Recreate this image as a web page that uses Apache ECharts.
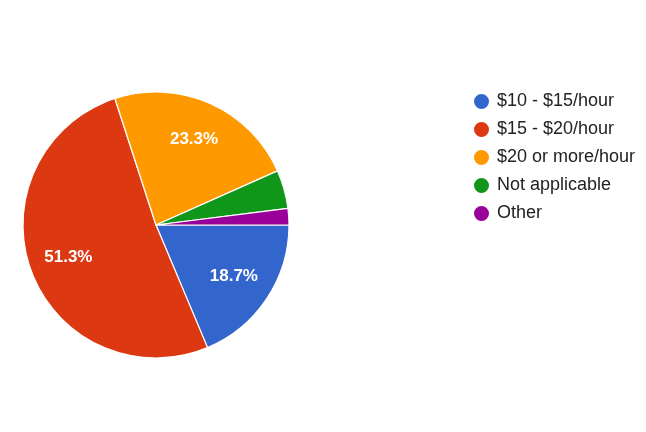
<!DOCTYPE html>
<html>
<head>
<meta charset="utf-8">
<script src="https://cdn.jsdelivr.net/npm/echarts@6/dist/echarts.min.js"></script>
<style>
html,body{margin:0;padding:0;background:#fff;}
#chart{width:646px;height:432px;}
</style>
</head>
<body>
<div id="chart"></div>
<script>
const categories = ['$10 - $15/hour', '$15 - $20/hour', '$20 or more/hour', 'Not applicable', 'Other'];
const counts = [28, 77, 35, 7, 3];
const colors = ['#3366cc', '#dc3912', '#ff9900', '#109618', '#990099'];

const pieData = categories.map((c, i) => ({ name: c, value: counts[i] }));

const chart = echarts.init(document.getElementById('chart'), null, { renderer: 'canvas' });
chart.setOption({
  animation: false,
  color: colors,
  legend: {
    orient: 'vertical',
    left: 467,
    top: 87,
    icon: 'circle',
    itemWidth: 21,
    itemHeight: 17,
    itemGap: 9,
    data: categories,
    textStyle: { fontFamily: 'Liberation Sans, Arial, sans-serif', fontSize: 18, color: '#222', lineHeight: 17 }
  },
  series: [
    {
      type: 'pie',
      center: [156, 225],
      radius: [0, 133],
      startAngle: 0,
      clockwise: true,
      data: pieData,
      label: { show: false },
      labelLine: { show: false },
      itemStyle: { borderColor: '#fff', borderWidth: 1.2 },
      emphasis: { disabled: true }
    },
    {
      type: 'pie',
      silent: true,
      center: [156, 225],
      radius: [48, 133],
      startAngle: 0,
      clockwise: true,
      percentPrecision: 1,
      data: pieData,
      itemStyle: { color: 'rgba(0,0,0,0)', borderWidth: 0 },
      labelLine: { show: false },
      label: {
        show: true,
        position: 'inside',
        color: '#fff',
        fontFamily: 'Liberation Sans, Arial, sans-serif',
        fontWeight: 'bold',
        fontSize: 17,
        formatter: p => p.percent >= 10 ? p.percent.toFixed(1) + '%' : ''
      },
      emphasis: { disabled: true }
    }
  ]
});
</script>
</body>
</html>
